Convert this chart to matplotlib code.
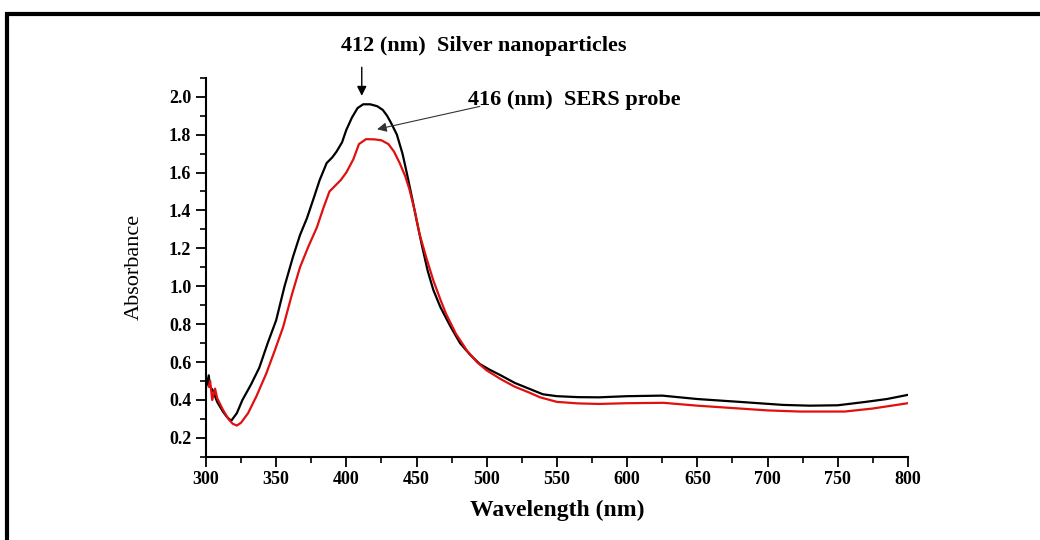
import matplotlib
matplotlib.use("Agg")
import matplotlib.pyplot as plt
from matplotlib.patches import Rectangle
from matplotlib.ticker import MultipleLocator

plt.rcParams["font.family"] = ["Liberation Serif", "DejaVu Serif"]

# UV-Vis spectra
ag_nm = [300, 301, 302, 303, 305, 308, 312, 315, 318, 322, 326, 332, 338, 344,
         350, 356, 362, 367, 372, 377, 381, 386, 390, 393, 397, 400, 404, 408,
         412, 417, 422, 426, 429, 432, 436, 440, 443, 447, 450, 454, 458, 462,
         467, 474, 481, 488, 495, 502, 510, 520, 530, 540, 550, 565, 580, 600,
         625, 650, 680, 711, 730, 750, 770, 785, 800]
ag_abs = [0.52, 0.48, 0.53, 0.47, 0.45, 0.39, 0.34, 0.31, 0.29, 0.33, 0.40, 0.48,
          0.57, 0.70, 0.82, 1.00, 1.155, 1.27, 1.36, 1.47, 1.56, 1.65, 1.68,
          1.71, 1.76, 1.825, 1.89, 1.94, 1.96, 1.96, 1.95, 1.93, 1.90, 1.86,
          1.80, 1.70, 1.60, 1.46, 1.35, 1.21, 1.08, 0.98, 0.89, 0.79, 0.70,
          0.64, 0.59, 0.56, 0.53, 0.49, 0.46, 0.43, 0.42, 0.415, 0.414, 0.42,
          0.423, 0.405, 0.39, 0.374, 0.37, 0.372, 0.39, 0.405, 0.427]

sers_nm = [302, 303, 304.5, 306.5, 308, 312, 316, 319, 322, 325, 330, 336, 343,
           349, 355, 361, 367, 373, 379, 384, 388, 392, 396, 400, 405, 409, 414,
           420, 425, 430, 434, 438, 442, 445, 449, 452, 457, 462, 467, 471, 478,
           486, 493, 500, 510, 520, 530, 538, 550, 565, 580, 600, 626, 650, 680,
           700, 723, 755, 775, 800]
sers_abs = [0.47, 0.50, 0.40, 0.46, 0.41, 0.35, 0.30, 0.275, 0.265, 0.28, 0.33,
            0.42, 0.54, 0.66, 0.785, 0.95, 1.10, 1.21, 1.31, 1.42, 1.50, 1.53,
            1.56, 1.60, 1.67, 1.75, 1.776, 1.775, 1.77, 1.75, 1.71, 1.65, 1.58,
            1.51, 1.39, 1.28, 1.15, 1.03, 0.93, 0.855, 0.75, 0.66, 0.60, 0.556,
            0.51, 0.47, 0.44, 0.414, 0.39, 0.382, 0.379, 0.383, 0.385, 0.37,
            0.355, 0.345, 0.339, 0.339, 0.355, 0.383]

fig = plt.figure(figsize=(10.4, 5.4), dpi=100)
ax = fig.add_axes([0.198, 0.154, 0.675, 0.702])

ax.plot(ag_nm, ag_abs, color="black", lw=1.6, solid_joinstyle="round")
ax.plot(sers_nm, sers_abs, color="#e01010", lw=1.6, solid_joinstyle="round")

ax.set_xlim(300, 800)
ax.set_ylim(0.1, 2.1)
ax.xaxis.set_major_locator(MultipleLocator(50))
ax.xaxis.set_minor_locator(MultipleLocator(25))
ax.yaxis.set_major_locator(MultipleLocator(0.2))
ax.yaxis.set_minor_locator(MultipleLocator(0.1))
ax.yaxis.set_major_formatter(matplotlib.ticker.FormatStrFormatter("%.1f"))

for s in ["top", "right"]:
    ax.spines[s].set_visible(False)
for s in ["left", "bottom"]:
    ax.spines[s].set_linewidth(1.5)
ax.tick_params(which="major", length=7, width=1.3, direction="out", labelsize=13)
ax.tick_params(which="minor", length=4, width=1.2, direction="out")
for lbl in ax.get_xticklabels() + ax.get_yticklabels():
    lbl.set_fontweight("bold")

ax.set_xlabel("Wavelength (nm)", fontsize=17, fontweight="bold", labelpad=8)
ax.set_ylabel("Absorbance", fontsize=16, labelpad=18)

# peak labels
ax.text(396, 2.27, "412 (nm)  Silver nanoparticles", fontsize=16,
        fontweight="bold", ha="left", va="center", clip_on=False)
ax.annotate("", xy=(411, 1.99), xytext=(411, 2.17), annotation_clip=False,
            arrowprops=dict(arrowstyle="-|>", color="black", lw=1.0,
                            mutation_scale=14))
ax.text(487, 1.985, "416 (nm)  SERS probe", fontsize=16,
        fontweight="bold", ha="left", va="center")
ax.annotate("", xy=(420, 1.825), xytext=(497, 1.952),
            arrowprops=dict(arrowstyle="-|>", color="#333333", lw=0.8,
                            mutation_scale=14))

# frame around the figure
fig.patches.append(Rectangle((7 / 1040, -0.2), 1.2, 1.2 - 14 / 540,
                             transform=fig.transFigure, fill=False,
                             edgecolor="black", lw=3, clip_on=False))

fig.savefig("out.png", dpi=100)
